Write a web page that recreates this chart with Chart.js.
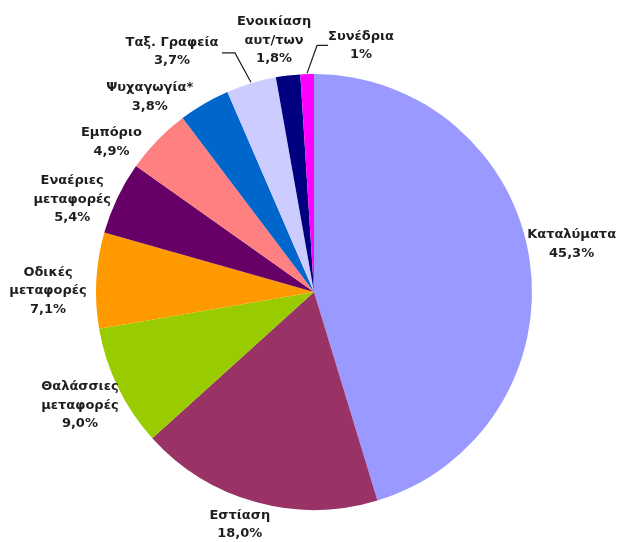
<!DOCTYPE html>
<html>
<head>
<meta charset="utf-8">
<script src="https://cdn.jsdelivr.net/npm/chart.js@4.4.1/dist/chart.umd.min.js"></script>
<style>
  html, body { margin: 0; padding: 0; background: #fff; }
  #wrap { width: 617px; height: 542px; position: relative; }
</style>
</head>
<body>
<div id="wrap"><canvas id="myChart" width="617" height="542"></canvas></div>
<script>
const categories = [
    'Καταλύματα',
    'Εστίαση',
    'Θαλάσσιες\nμεταφορές',
    'Οδικές\nμεταφορές',
    'Εναέριες\nμεταφορές',
    'Εμπόριο',
    'Ψυχαγωγία*',
    'Ταξ. Γραφεία',
    'Ενοικίαση\nαυτ/των',
    'Συνέδρια'
];
const values = [45.3, 18.0, 9.0, 7.1, 5.4, 4.9, 3.8, 3.7, 1.8, 1];
const valueLabels = ['45,3%', '18,0%', '9,0%', '7,1%', '5,4%', '4,9%', '3,8%', '3,7%', '1,8%', '1%'];
const colors = ['#9999FF', '#993366', '#99CC00', '#FF9900', '#660066', '#FF8080', '#0066CC', '#CCCCFF', '#000080', '#FF00FF'];

// label placement: [angle from 12 o'clock in degrees, gap outside the rim]
const labelPlaces = [[79.5, 44], [197.7, 26], [244.2, 42], [270.2, 48], [291, 41], [306.5, 34], [319.9, 37], [329.4, 61], [351, 37], [10.8, 33]];
// leader lines: elbow and end offsets relative to label centre
const leaders = { 7: [[63, 1], [50, 1]], 9: [[-44, 0], [-33, 0]] };

const outsideLabels = {
    id: 'outsideLabels',
    afterDraw: (chart) => {
        const ctx = chart.ctx;
        const arcs = chart.getDatasetMeta(0).data;
        ctx.save();
        ctx.font = 'bold 13px "DejaVu Sans"';
        ctx.fillStyle = '#1e1e1e';
        ctx.textAlign = 'center';
        ctx.textBaseline = 'middle';
        arcs.forEach((arc, i) => {
            const p = arc.getProps(['x', 'y', 'startAngle', 'endAngle', 'outerRadius'], true);
            const a = labelPlaces[i][0] * Math.PI / 180;
            const d = p.outerRadius + labelPlaces[i][1];
            const lx = p.x + d * Math.sin(a);
            const ly = p.y - d * Math.cos(a);
            const lines = categories[i].split('\n').concat([valueLabels[i]]);
            const lh = 18.5;
            lines.forEach((t, k) => {
                ctx.fillText(t, lx, ly + (k - (lines.length - 1) / 2) * lh);
            });
            if (leaders[i]) {
                const mid = (p.startAngle + p.endAngle) / 2;
                const ex = p.x + (p.outerRadius + 1) * Math.cos(mid);
                const ey = p.y + (p.outerRadius + 1) * Math.sin(mid);
                ctx.strokeStyle = '#1e1e1e';
                ctx.lineWidth = 1.2;
                ctx.beginPath();
                ctx.moveTo(ex, ey);
                ctx.lineTo(lx + leaders[i][0][0], ly + leaders[i][0][1]);
                ctx.lineTo(lx + leaders[i][1][0], ly + leaders[i][1][1]);
                ctx.stroke();
            }
        });
        ctx.restore();
    }
};

const ctx = document.getElementById('myChart').getContext('2d');
new Chart(ctx, {
    type: 'pie',
    data: {
        labels: categories,
        datasets: [{
            data: values,
            backgroundColor: colors,
            borderWidth: 0
        }]
    },
    options: {
        responsive: false,
        animation: false,
        layout: { padding: { top: 74, bottom: 32, left: 96, right: 85 } },
        plugins: {
            legend: { display: false },
            tooltip: { enabled: false }
        }
    },
    plugins: [outsideLabels]
});
</script>
</body>
</html>
